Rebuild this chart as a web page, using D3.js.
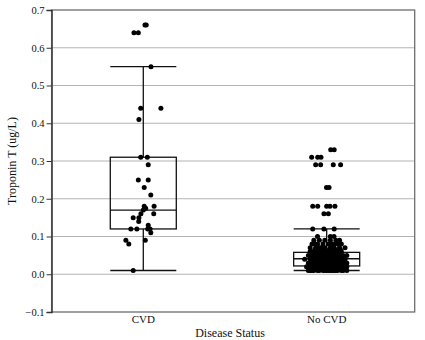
<!DOCTYPE html>
<html>
<head>
<meta charset="utf-8">
<script src="https://cdn.jsdelivr.net/npm/d3@7"></script>
<style>
  body { margin: 0; background: #fff; }
  svg text { font-family: "Liberation Serif", "DejaVu Serif", serif; fill: #111; }
</style>
</head>
<body>
<div id="chart"></div>
<script>
'use strict';

// categories on the x axis
const categories = ["CVD", "No CVD"];
const yTicks = [-0.1, 0.0, 0.1, 0.2, 0.3, 0.4, 0.5, 0.6, 0.7];

// box summaries: [whiskerLow, q1, median, q3, whiskerHigh]
const cvdBox = [0.01, 0.12, 0.17, 0.31, 0.55];
const noCvdBox = [0.01, 0.022, 0.041, 0.058, 0.12];

// CVD points (troponin value) and their horizontal jitter (category units)
const cvdValues = [0.66, 0.66, 0.64, 0.64, 0.55, 0.44, 0.44, 0.41, 0.31, 0.31, 0.29,
    0.25, 0.25, 0.23, 0.21, 0.18, 0.18, 0.175, 0.17, 0.16, 0.16, 0.15, 0.15, 0.14,
    0.13, 0.12, 0.12, 0.12, 0.12, 0.11, 0.09, 0.09, 0.08, 0.01];
const cvdJitter = [0.009, 0.016, -0.051, -0.027, 0.042, -0.014, 0.096, -0.024, -0.014, 0.022, 0.027,
    -0.027, 0.027, 0.005, 0.041, 0.005, 0.059, 0.013, 0.000, -0.013, 0.057, -0.024, -0.055, -0.025,
    0.027, -0.068, -0.035, 0.037, 0.024, 0.041, 0.011, -0.095, -0.079, -0.055];

// No CVD points, grouped by measured level, jitter list per level
const noCvdLevels = [0.01, 0.015, 0.02, 0.025, 0.03, 0.035, 0.04, 0.045, 0.05, 0.055, 0.06,
    0.065, 0.07, 0.08, 0.09, 0.10, 0.12, 0.16, 0.18, 0.23, 0.29, 0.31, 0.33];
const noCvdJitter = [
    [-0.10, -0.08, -0.07, -0.05, -0.04, -0.02, -0.01, 0.00, 0.01, 0.03, 0.04, 0.05, 0.06, 0.08, 0.09, 0.11, -0.09, 0.02],
    [-0.095, -0.065, -0.035, -0.005, 0.025, 0.055, 0.085, 0.10],
    [-0.11, -0.09, -0.06, -0.04, -0.03, -0.01, 0.01, 0.02, 0.04, 0.05, 0.07, 0.08, 0.10, -0.07, 0.00, 0.03, 0.11],
    [-0.085, -0.055, -0.025, 0.005, 0.035, 0.065, 0.095],
    [-0.10, -0.08, -0.06, -0.04, -0.02, 0.00, 0.01, 0.03, 0.05, 0.06, 0.09, 0.11, -0.05, 0.02, 0.07, 0.105],
    [-0.075, -0.045, -0.015, 0.015, 0.045, 0.075],
    [-0.12, -0.09, -0.07, -0.05, -0.03, -0.01, 0.01, 0.02, 0.04, 0.06, 0.08, 0.10, -0.02, 0.03],
    [-0.085, -0.055, -0.035, -0.005, 0.025, 0.055, 0.085],
    [-0.10, -0.08, -0.05, -0.03, -0.01, 0.01, 0.03, 0.05, 0.07, 0.09, 0.11, -0.06, 0.00],
    [-0.075, -0.045, -0.015, 0.015, 0.045, 0.065],
    [-0.09, -0.07, -0.04, -0.02, 0.00, 0.02, 0.04, 0.06, 0.08, -0.05, 0.01],
    [-0.065, -0.035, -0.005, 0.025, 0.055, 0.075],
    [-0.09, -0.06, -0.03, -0.01, 0.02, 0.04, 0.07, 0.10, -0.04],
    [-0.08, -0.05, -0.02, 0.01, 0.03, 0.06, 0.08, -0.065, 0.045],
    [-0.07, -0.04, -0.01, 0.02, 0.05, 0.07],
    [-0.05, 0.02, 0.04],
    [-0.076, -0.015, 0.041],
    [-0.015, 0.009],
    [-0.076, -0.049, 0.000, 0.018, 0.045],
    [-0.001, 0.013],
    [-0.060, -0.033, 0.036, 0.076],
    [-0.082, -0.049, -0.031],
    [0.022, 0.041]
];

const width = 425, height = 340;
const svg = d3.select("#chart").append("svg")
    .attr("width", width)
    .attr("height", height);

// scales
const x = d3.scaleLinear().domain([-0.5, 1.48]).range([51.6, 414.7]);
const y = d3.scaleLinear().domain([-0.1, 0.7]).range([312, 10]);
const boxHalf = 0.18;

// gridlines
svg.append("g")
    .selectAll("line")
    .data(yTicks.filter(t => t > -0.1 && t < 0.7))
    .enter()
    .append("line")
    .attr("x1", x(-0.5)).attr("x2", x(1.48))
    .attr("y1", d => y(d)).attr("y2", d => y(d))
    .attr("stroke", "#b4b4b4")
    .attr("stroke-width", 1.2);

// frame
svg.append("rect")
    .attr("x", x(-0.5)).attr("y", y(0.7))
    .attr("width", x(1.48) - x(-0.5)).attr("height", y(-0.1) - y(0.7))
    .attr("fill", "none")
    .attr("stroke", "#6e6e6e")
    .attr("stroke-width", 1.3);

// y axis
const yAxis = svg.append("g")
    .attr("transform", "translate(" + x(-0.5) + ",0)")
    .call(d3.axisLeft(y).tickValues(yTicks).tickFormat(d3.format(".1f")).tickSize(5).tickPadding(2));
yAxis.select(".domain").attr("stroke", "#333").attr("stroke-width", 1.3);
yAxis.selectAll(".tick line").attr("stroke", "#333");
yAxis.selectAll("text").style("font-size", "10.5px").attr("fill", "#111");

// x category labels
svg.append("g")
    .selectAll("text")
    .data(categories)
    .enter()
    .append("text")
    .attr("x", (d, i) => x(i))
    .attr("y", 323)
    .attr("text-anchor", "middle")
    .style("font-size", "11px")
    .text(d => d);

// axis titles
svg.append("text")
    .attr("x", 230).attr("y", 337)
    .attr("text-anchor", "middle")
    .style("font-size", "12px")
    .text("Disease Status");
svg.append("text")
    .attr("transform", "translate(16," + y(0.3) + ") rotate(-90)")
    .attr("text-anchor", "middle")
    .style("font-size", "12px")
    .text("Troponin T (ug/L)");

// boxes
function drawBox(stats, i) {
    let g = svg.append("g").attr("stroke", "#111").attr("stroke-width", 1.3).attr("fill", "none");
    let [lo, q1, med, q3, hi] = stats;
    g.append("line").attr("x1", x(i)).attr("x2", x(i)).attr("y1", y(hi)).attr("y2", y(q3));
    g.append("line").attr("x1", x(i)).attr("x2", x(i)).attr("y1", y(q1)).attr("y2", y(lo));
    g.append("rect")
        .attr("x", x(i - boxHalf)).attr("y", y(q3))
        .attr("width", x(i + boxHalf) - x(i - boxHalf)).attr("height", y(q1) - y(q3));
    [lo, med, hi].forEach(v => {
        g.append("line").attr("x1", x(i - boxHalf)).attr("x2", x(i + boxHalf))
            .attr("y1", y(v)).attr("y2", y(v));
    });
}
drawBox(cvdBox, 0);
drawBox(noCvdBox, 1);

// points
const cvdPoints = cvdValues.map((v, k) => ({ v: v, j: cvdJitter[k], c: 0 }));
const noCvdPoints = [];
noCvdLevels.forEach((v, k) => noCvdJitter[k].forEach(j => noCvdPoints.push({ v: v, j: j, c: 1 })));

svg.append("g")
    .selectAll("circle")
    .data(cvdPoints.concat(noCvdPoints))
    .enter()
    .append("circle")
    .attr("cx", d => x(d.c + d.j))
    .attr("cy", d => y(d.v))
    .attr("r", 2.5)
    .attr("fill", "#000");
</script>
</body>
</html>
